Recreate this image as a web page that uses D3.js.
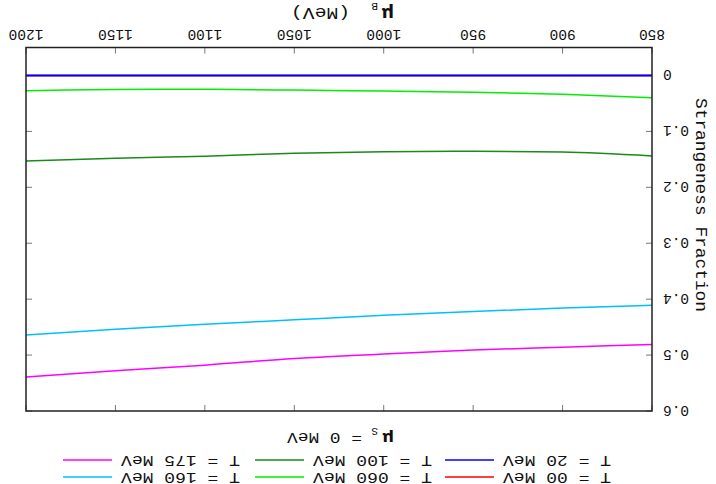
<!DOCTYPE html>
<html>
<head>
<meta charset="utf-8">
<script src="https://cdn.jsdelivr.net/npm/d3@7"></script>
<style>
  body { margin: 0; background: #fff; }
  text { font-family: "Liberation Mono", "DejaVu Sans Mono", monospace; fill: #111; }
</style>
</head>
<body>
<div id="chart"></div>
<script>
// chemical potential mu_B (MeV)
const muB = [850, 900, 950, 1000, 1050, 1100, 1150, 1200];

// strangeness fraction per temperature
const t000 = [0, 0, 0, 0, 0, 0, 0, 0];
const t020 = [0, 0, 0, 0, 0, 0, 0, 0];
const t060 = [0.0397, 0.0335, 0.0300, 0.0280, 0.0262, 0.0248, 0.0250, 0.0272];
const t100 = [0.144, 0.137, 0.1355, 0.1365, 0.139, 0.1445, 0.148, 0.153];
const t160 = [0.411, 0.416, 0.422, 0.429, 0.437, 0.445, 0.454, 0.464];
const t175 = [0.481, 0.486, 0.491, 0.498, 0.506, 0.518, 0.528, 0.539];

const seriesNames = ["T = 00 MeV", "T = 20 MeV", "T = 060 MeV", "T = 100 MeV", "T = 160 MeV", "T = 175 MeV"];
const seriesColors = ["#ff0000", "#0000ff", "#00ee00", "#1a8a1a", "#00bfff", "#ff00ff"];
const seriesValues = [t000, t020, t060, t100, t160, t175];

const xTicks = [850, 900, 950, 1000, 1050, 1100, 1150, 1200];
const yTicks = [0, 0.1, 0.2, 0.3, 0.4, 0.5, 0.6];

const W = 716, H = 484;
const margin = {top: 73, right: 26, bottom: 47.5, left: 64};

const svg = d3.select("#chart").append("svg")
    .attr("width", W)
    .attr("height", H);

// the whole figure is shown upside down
const root = svg.append("g")
    .attr("transform", `rotate(180 ${W / 2} ${H / 2})`);

const x = d3.scaleLinear()
    .domain([850, 1200])
    .range([margin.left, W - margin.right]);

const y = d3.scaleLinear()
    .domain([-0.05, 0.6])
    .range([H - margin.bottom, margin.top]);

// ticks, inward, mirrored on both sides
const tickLen = 6;
root.append("g")
    .selectAll("line")
    .data(xTicks.flatMap(d => [[d, y.range()[0], -1], [d, y.range()[1], 1]]))
    .join("line")
    .attr("x1", d => x(d[0])).attr("x2", d => x(d[0]))
    .attr("y1", d => d[1]).attr("y2", d => d[1] + d[2] * tickLen)
    .attr("stroke", "#777").attr("stroke-width", 1);

root.append("g")
    .selectAll("line")
    .data(yTicks.flatMap(d => [[d, x.range()[0], 1], [d, x.range()[1], -1]]))
    .join("line")
    .attr("y1", d => y(d[0])).attr("y2", d => y(d[0]))
    .attr("x1", d => d[1]).attr("x2", d => d[1] + d[2] * tickLen)
    .attr("stroke", "#777").attr("stroke-width", 1);

// tick labels
root.append("g")
    .selectAll("text")
    .data(xTicks)
    .join("text")
    .attr("x", d => x(d))
    .attr("y", y.range()[0] + 18)
    .attr("text-anchor", "middle")
    .style("font-size", "14.5px")
    .text(d => d);

root.append("g")
    .selectAll("text")
    .data(yTicks)
    .join("text")
    .attr("x", margin.left - 11)
    .attr("y", d => y(d) + 5)
    .attr("text-anchor", "end")
    .style("font-size", "14.5px")
    .text(d => d === 0 ? "0" : d3.format(".1f")(d));

// series lines (the T = 20 curve sits on top of T = 00)
const line = d3.line()
    .x((d, i) => x(muB[i]))
    .y(d => y(d))
    .curve(d3.curveMonotoneX);

root.append("g")
    .selectAll("path")
    .data(seriesValues)
    .join("path")
    .attr("d", d => line(d))
    .attr("fill", "none")
    .attr("stroke", (d, i) => seriesColors[i])
    .attr("stroke-width", (d, i) => i === 1 ? 2 : 1.5);

// frame
root.append("rect")
    .attr("x", margin.left)
    .attr("y", margin.top)
    .attr("width", W - margin.left - margin.right)
    .attr("height", H - margin.top - margin.bottom)
    .attr("fill", "none")
    .attr("stroke", "#222")
    .attr("stroke-width", 1.5);

// axis titles
const mu = (sel, xPos, yPos, sub, size) => {
    sel.append("text")
        .attr("x", xPos).attr("y", yPos)
        .style("font-family", "DejaVu Sans")
        .style("font-weight", "bold")
        .style("font-size", size + "px")
        .text("μ");
    sel.append("text")
        .attr("x", xPos + 16).attr("y", yPos + 5)
        .style("font-size", "11px")
        .text(sub);
};

mu(root, 322, 476, "B", 17);
root.append("text")
    .attr("x", 366).attr("y", 476)
    .style("font-size", "16px")
    .attr("textLength", 59)
    .attr("lengthAdjust", "spacingAndGlyphs")
    .text("(MeV)");

root.append("text")
    .attr("transform", "translate(20,279) rotate(-90)")
    .attr("text-anchor", "middle")
    .style("font-size", "17px")
    .attr("textLength", 214)
    .attr("lengthAdjust", "spacingAndGlyphs")
    .text("Strangeness Fraction");

mu(root, 322, 51, "S", 16);
root.append("text")
    .attr("x", 354).attr("y", 51)
    .style("font-size", "14.5px")
    .attr("textLength", 75)
    .attr("lengthAdjust", "spacingAndGlyphs")
    .text("= 0 MeV");

// key: two rows, filled column by column
const keyCols = [213, 403, 595];
const keyRows = [7, 24];
const key = root.append("g")
    .selectAll("g")
    .data(seriesNames)
    .join("g")
    .attr("transform", (d, i) => `translate(${keyCols[Math.floor(i / 2)]},${keyRows[i % 2]})`);

key.append("text")
    .attr("x", 0)
    .attr("y", 4.5)
    .attr("text-anchor", "end")
    .style("font-size", "14px")
    .attr("textLength", d => d.length * 11 - 2)
    .attr("lengthAdjust", "spacingAndGlyphs")
    .text(d => d);

key.append("line")
    .attr("x1", 9).attr("x2", 58)
    .attr("y1", 0).attr("y2", 0)
    .attr("stroke", (d, i) => seriesColors[i])
    .attr("stroke-width", 1.5);
</script>
</body>
</html>
